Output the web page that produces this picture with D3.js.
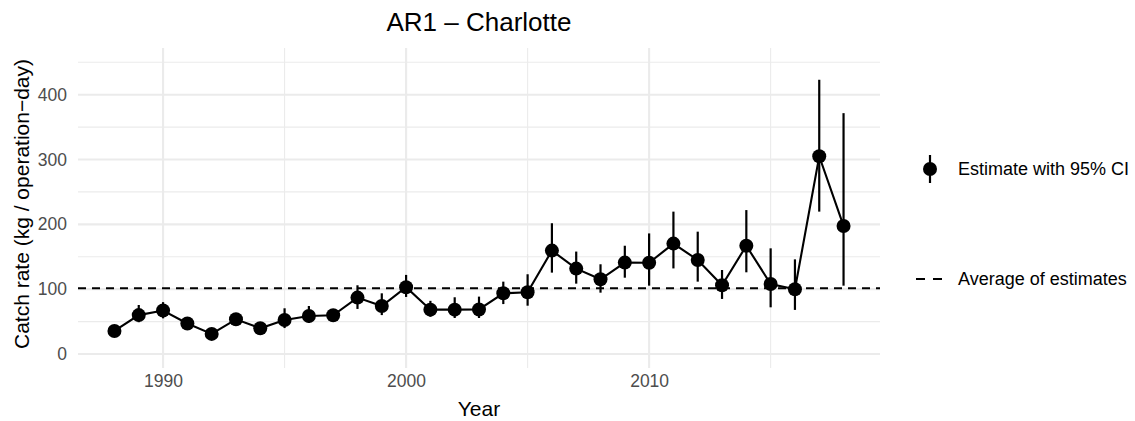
<!DOCTYPE html>
<html>
<head>
<meta charset="utf-8">
<script src="https://cdn.jsdelivr.net/npm/d3@7"></script>
<style>
  html, body { margin: 0; padding: 0; background: #fff; }
  svg { display: block; font-family: "Liberation Sans", Arial, Helvetica, sans-serif; }
</style>
</head>
<body>
<svg id="chart" width="1135" height="421"></svg>
<script>
// ---- Data ----
const years = [1988, 1989, 1990, 1991, 1992, 1993, 1994, 1995, 1996, 1997, 1998, 1999,
               2000, 2001, 2002, 2003, 2004, 2005, 2006, 2007, 2008, 2009, 2010, 2011,
               2012, 2013, 2014, 2015, 2016, 2017, 2018];
const estimates = [35.5, 60, 67, 47, 31, 53.5, 39.6, 52.5, 58.6, 59.7, 87, 74,
                   103, 68.4, 68.4, 68.7, 93.6, 95.2, 159.5, 131.7, 115.3, 141, 140.7, 170.3,
                   145, 106, 167, 108, 99.8, 305, 197.5];
const lower = [28, 49, 55, 40, 25, 45, 33, 40, 48, 51, 69.5, 60,
               88, 57.6, 55.5, 55.5, 77, 74.5, 125.5, 108.5, 94.6, 117.7, 105.4, 132,
               111.6, 84.9, 126, 72, 68, 219.6, 105.4];
const upper = [44, 75.6, 80, 55, 38, 62, 47, 70.5, 74, 69, 106, 93.6,
               122, 82, 87.5, 88.5, 111.6, 123, 201.7, 158, 138.4, 167, 186, 219.6,
               188.7, 129.6, 222, 163, 146, 423, 371.5];
const xTicks = [1990, 2000, 2010];
const xMinor = [1995, 2005, 2015];
const yTicks = [0, 100, 200, 300, 400];
const yMinor = [50, 150, 250, 350, 450];
const titleText = "AR1 \u2013 Charlotte";
const xTitle = "Year";
const yTitle = "Catch rate (kg / operation\u2212day)";
const legendLabels = ["Estimate with 95% CI", "Average of estimates"];

const data = years.map((y, i) => ({ year: y, est: estimates[i], lo: lower[i], hi: upper[i] }));
const avg = d3.mean(estimates);

// ---- Layout ----
const svg = d3.select("#chart");
const panel = { left: 78, right: 880, top: 48, bottom: 368 };

const x = d3.scaleLinear().domain([1986.5, 2019.5]).range([panel.left, panel.right]);
const y = d3.scaleLinear().domain([-21.6, 472]).range([panel.bottom, panel.top]);

const grid = svg.append("g");
// minor grid
grid.selectAll("line.ymin").data(yMinor).join("line")
  .attr("x1", panel.left).attr("x2", panel.right)
  .attr("y1", d => y(d)).attr("y2", d => y(d))
  .attr("stroke", "#ebebeb").attr("stroke-width", 1.1);
grid.selectAll("line.xmin").data(xMinor).join("line")
  .attr("x1", d => x(d)).attr("x2", d => x(d))
  .attr("y1", panel.top).attr("y2", panel.bottom)
  .attr("stroke", "#ebebeb").attr("stroke-width", 1.1);
// major grid
grid.selectAll("line.ymaj").data(yTicks).join("line")
  .attr("x1", panel.left).attr("x2", panel.right)
  .attr("y1", d => y(d)).attr("y2", d => y(d))
  .attr("stroke", "#ebebeb").attr("stroke-width", 2.1);
grid.selectAll("line.xmaj").data(xTicks).join("line")
  .attr("x1", d => x(d)).attr("x2", d => x(d))
  .attr("y1", panel.top).attr("y2", panel.bottom)
  .attr("stroke", "#ebebeb").attr("stroke-width", 2.1);

// ---- Axes (text only, theme_minimal style) ----
const yAxis = d3.axisLeft(y).tickValues(yTicks).tickSize(0).tickPadding(0);
const gy = svg.append("g").attr("transform", `translate(${panel.left - 11},0)`).call(yAxis);
gy.select(".domain").remove();
gy.selectAll("text").attr("fill", "#4d4d4d").attr("font-size", 17.5)
  .attr("font-family", "Liberation Sans, Arial, sans-serif");

const xAxis = d3.axisBottom(x).tickValues(xTicks).tickFormat(d3.format("d")).tickSize(0).tickPadding(0);
const gx = svg.append("g").attr("transform", `translate(0,${panel.bottom + 7})`).call(xAxis);
gx.select(".domain").remove();
gx.selectAll("text").attr("fill", "#4d4d4d").attr("font-size", 17.5)
  .attr("font-family", "Liberation Sans, Arial, sans-serif");

// ---- Average line ----
svg.append("line")
  .attr("x1", panel.left).attr("x2", panel.right)
  .attr("y1", y(avg)).attr("y2", y(avg))
  .attr("stroke", "#000").attr("stroke-width", 2)
  .attr("stroke-dasharray", "8,6");

// ---- Series line ----
const line = d3.line().x(d => x(d.year)).y(d => y(d.est));
svg.append("path").datum(data)
  .attr("d", line).attr("fill", "none")
  .attr("stroke", "#000").attr("stroke-width", 2.1);

// ---- Error bars ----
svg.append("g").selectAll("line").data(data).join("line")
  .attr("x1", d => x(d.year)).attr("x2", d => x(d.year))
  .attr("y1", d => y(d.lo)).attr("y2", d => y(d.hi))
  .attr("stroke", "#000").attr("stroke-width", 2.2);

// ---- Points ----
svg.append("g").selectAll("circle").data(data).join("circle")
  .attr("cx", d => x(d.year)).attr("cy", d => y(d.est))
  .attr("r", 7).attr("fill", "#000");

// ---- Titles ----
svg.append("text").attr("x", (panel.left + panel.right) / 2).attr("y", 31)
  .attr("text-anchor", "middle").attr("font-size", 26).attr("fill", "#000").text(titleText);
svg.append("text").attr("x", (panel.left + panel.right) / 2).attr("y", 416)
  .attr("text-anchor", "middle").attr("font-size", 21).attr("fill", "#000").text(xTitle);
svg.append("text")
  .attr("transform", `translate(28.5,${(panel.top + panel.bottom) / 2 - 4}) rotate(-90)`)
  .attr("text-anchor", "middle").attr("font-size", 21).attr("fill", "#000").text(yTitle);

// ---- Legend ----
const lg = svg.append("g");
lg.append("line").attr("x1", 930).attr("x2", 930).attr("y1", 155).attr("y2", 183)
  .attr("stroke", "#000").attr("stroke-width", 2.2);
lg.append("circle").attr("cx", 930).attr("cy", 169).attr("r", 7).attr("fill", "#000");
lg.append("text").attr("x", 958).attr("y", 175).attr("font-size", 18).attr("fill", "#000").text(legendLabels[0]);
lg.append("line").attr("x1", 916).attr("x2", 944).attr("y1", 279).attr("y2", 279)
  .attr("stroke", "#000").attr("stroke-width", 2).attr("stroke-dasharray", "9,8");
lg.append("text").attr("x", 958).attr("y", 285).attr("font-size", 18).attr("fill", "#000").text(legendLabels[1]);
</script>
</body>
</html>
